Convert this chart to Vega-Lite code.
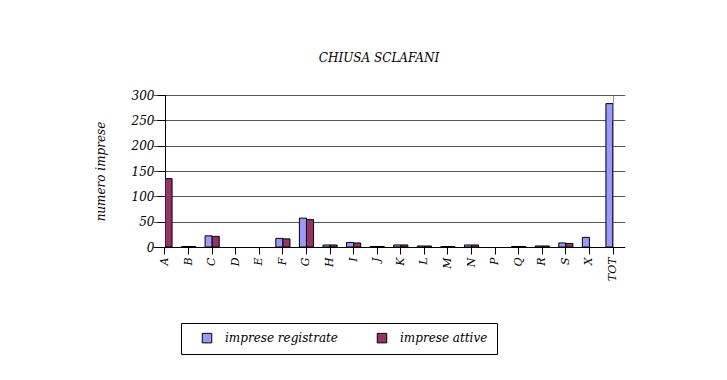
{
  "$schema": "https://vega.github.io/schema/vega-lite/v6.json",
  "width": 448,
  "height": 152,
  "autosize": "none",
  "padding": {"left": 165, "top": 95, "right": 114, "bottom": 133},
  "background": "white",
  "title": {
    "text": "CHIUSA SCLAFANI",
    "font": "DejaVu Serif",
    "fontStyle": "italic",
    "fontWeight": "normal",
    "fontSize": 12,
    "color": "black",
    "offset": 24,
    "dx": -10
  },
  "data": {
    "values": [
      {"cat": "A", "serie": "imprese registrate", "n": 135},
      {"cat": "A", "serie": "imprese attive", "n": 135},
      {"cat": "B", "serie": "imprese registrate", "n": 1},
      {"cat": "B", "serie": "imprese attive", "n": 1},
      {"cat": "C", "serie": "imprese registrate", "n": 22},
      {"cat": "C", "serie": "imprese attive", "n": 21},
      {"cat": "D", "serie": "imprese registrate", "n": 0},
      {"cat": "D", "serie": "imprese attive", "n": 0},
      {"cat": "E", "serie": "imprese registrate", "n": 0},
      {"cat": "E", "serie": "imprese attive", "n": 0},
      {"cat": "F", "serie": "imprese registrate", "n": 17},
      {"cat": "F", "serie": "imprese attive", "n": 16},
      {"cat": "G", "serie": "imprese registrate", "n": 57},
      {"cat": "G", "serie": "imprese attive", "n": 54},
      {"cat": "H", "serie": "imprese registrate", "n": 4},
      {"cat": "H", "serie": "imprese attive", "n": 4},
      {"cat": "I", "serie": "imprese registrate", "n": 9},
      {"cat": "I", "serie": "imprese attive", "n": 8},
      {"cat": "J", "serie": "imprese registrate", "n": 1},
      {"cat": "J", "serie": "imprese attive", "n": 1},
      {"cat": "K", "serie": "imprese registrate", "n": 4},
      {"cat": "K", "serie": "imprese attive", "n": 4},
      {"cat": "L", "serie": "imprese registrate", "n": 2},
      {"cat": "L", "serie": "imprese attive", "n": 2},
      {"cat": "M", "serie": "imprese registrate", "n": 1},
      {"cat": "M", "serie": "imprese attive", "n": 1},
      {"cat": "N", "serie": "imprese registrate", "n": 4},
      {"cat": "N", "serie": "imprese attive", "n": 4},
      {"cat": "P", "serie": "imprese registrate", "n": 0},
      {"cat": "P", "serie": "imprese attive", "n": 0},
      {"cat": "Q", "serie": "imprese registrate", "n": 1},
      {"cat": "Q", "serie": "imprese attive", "n": 1},
      {"cat": "R", "serie": "imprese registrate", "n": 2},
      {"cat": "R", "serie": "imprese attive", "n": 2},
      {"cat": "S", "serie": "imprese registrate", "n": 8},
      {"cat": "S", "serie": "imprese attive", "n": 7},
      {"cat": "X", "serie": "imprese registrate", "n": 19},
      {"cat": "X", "serie": "imprese attive", "n": 0},
      {"cat": "TOT", "serie": "imprese registrate", "n": 283},
      {"cat": "TOT", "serie": "imprese attive", "n": 250}
    ]
  },
  "transform": [{"filter": "datum.n > 0"}],
  "mark": {"type": "bar", "stroke": "black", "strokeWidth": 1, "clip": true},
  "encoding": {
    "x": {
      "field": "cat",
      "type": "nominal",
      "sort": ["A","B","C","D","E","F","G","H","I","J","K","L","M","N","P","Q","R","S","X","TOT"],
      "scale": {"domain": ["A","B","C","D","E","F","G","H","I","J","K","L","M","N","P","Q","R","S","X","TOT"], "range": [-11.79, 459.79], "paddingInner": 0.4, "paddingOuter": 0.2},
      "axis": {
        "title": null,
        "bandPosition": 0.5,
        "domain": false,
        "labelAngle": 270,
        "labelFont": "DejaVu Serif",
        "labelFontStyle": "italic",
        "labelFontSize": 11,
        "labelColor": "black",
        "labelPadding": 3,
        "labelOverlap": false,
        "tickColor": "black",
        "tickSize": 7,
        "grid": false
      }
    },
    "xOffset": {
      "field": "serie",
      "type": "nominal",
      "sort": ["imprese registrate", "imprese attive"],
      "scale": {"domain": ["imprese registrate", "imprese attive"]}
    },
    "y": {
      "field": "n",
      "type": "quantitative",
      "scale": {"domain": [0, 300], "nice": false},
      "axis": {
        "title": "numero imprese",
        "titleFont": "DejaVu Serif",
        "titleFontStyle": "italic",
        "titleFontWeight": "normal",
        "titleFontSize": 12,
        "titleColor": "black",
        "titlePadding": 24,
        "values": [0, 50, 100, 150, 200, 250, 300],
        "labelOverlap": false,
        "labelFont": "DejaVu Serif",
        "labelFontStyle": "italic",
        "labelFontSize": 12,
        "labelColor": "black",
        "labelPadding": 3,
        "tickColor": "black",
        "tickSize": 8,
        "domainColor": "black",
        "gridColor": {"condition": {"test": "datum.value === 0", "value": "black"}, "value": "#555555"},
        "gridOpacity": 1
      }
    },
    "color": {
      "field": "serie",
      "type": "nominal",
      "scale": {"domain": ["imprese registrate", "imprese attive"], "range": ["#9999FF", "#993366"]},
      "legend": {
        "title": null,
        "orient": "none",
        "legendX": 16,
        "legendY": 228,
        "direction": "horizontal",
        "symbolType": "square",
        "symbolSize": 90,
        "symbolStrokeColor": "black",
        "symbolStrokeWidth": 1,
        "symbolOffset": 11,
        "labelFont": "DejaVu Serif",
        "labelFontStyle": "italic",
        "labelFontSize": 12,
        "labelColor": "black",
        "labelOffset": 12,
        "columnPadding": 27,
        "padding": 9,
        "strokeColor": "black",
        "fillColor": "white"
      }
    }
  },
  "config": {
    "view": {"stroke": "#999999"},
    "axis": {"domainWidth": 1, "tickWidth": 1}
  }
}
